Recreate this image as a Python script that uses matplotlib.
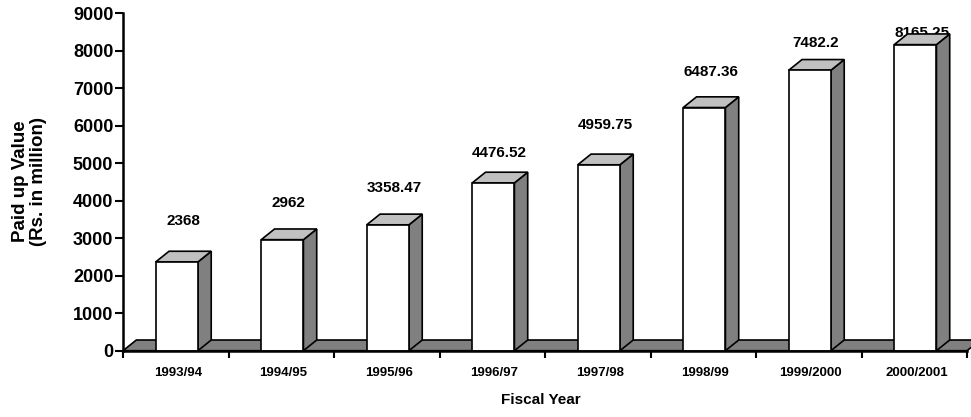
import matplotlib
matplotlib.use("Agg")
import matplotlib.pyplot as plt
from matplotlib.patches import Polygon

plt.rcParams['font.family'] = ['Liberation Sans', 'DejaVu Sans']
plt.rcParams['font.weight'] = 'bold'

years = ['1993/94', '1994/95', '1995/96', '1996/97',
         '1997/98', '1998/99', '1999/2000', '2000/2001']
paid_up = [2368, 2962, 3358.47, 4476.52, 4959.75, 6487.36, 7482.2, 8165.25]
# where each value label sits (data units), as laid out on the sheet
label_y = [3460, 3940, 4332, 5282, 6020, 7442, 8200, 8466]

# fake 3d depth, in data units
dx, dy = 0.126, 285
bar_left, bar_w = 0.31, 0.40

fig = plt.figure(figsize=(9.71, 4.17), dpi=100)
ax = fig.add_axes([0.1267, 0.159, 0.8692, 0.809])
ax.set_xlim(0, 8)
ax.set_ylim(0, 9000)

# floor
floor = Polygon([(0, 0), (8, 0), (8 + dx, dy), (dx, dy)], closed=True,
                facecolor='#808080', edgecolor='black', lw=1.2,
                zorder=1, clip_on=False)
ax.add_patch(floor)

for i, v in enumerate(paid_up):
    x0 = i + bar_left
    x1 = x0 + bar_w
    side = Polygon([(x1, 0), (x1 + dx, dy), (x1 + dx, v + dy), (x1, v)],
                   facecolor='#808080', edgecolor='black', lw=1.2, zorder=4)
    top = Polygon([(x0, v), (x1, v), (x1 + dx, v + dy), (x0 + dx, v + dy)],
                  facecolor='#c0c0c0', edgecolor='black', lw=1.2, zorder=4)
    front = Polygon([(x0, 0), (x1, 0), (x1, v), (x0, v)],
                    facecolor='white', edgecolor='black', lw=1.2, zorder=4)
    for p in (side, top, front):
        ax.add_patch(p)
    ax.text(i + 0.57, label_y[i], f'{v:g}', ha='center', va='center',
            fontsize=11, fontweight='bold', zorder=3)

for s in ('top', 'right'):
    ax.spines[s].set_visible(False)
for s in ('left', 'bottom'):
    ax.spines[s].set_linewidth(1.8)
    ax.spines[s].set_zorder(5)

ax.set_yticks(range(0, 9001, 1000))
ax.tick_params(axis='y', direction='out', length=6, width=1.5, pad=1,
               labelsize=13)
ax.set_xticks(range(0, 9))
ax.set_xticklabels([])
ax.tick_params(axis='x', which='major', direction='out', length=5, width=1.5)
ax.set_xticks([i + 0.52 for i in range(8)], minor=True)
ax.set_xticklabels(years, minor=True, fontsize=9.5, fontweight='bold')
ax.tick_params(axis='x', which='minor', length=0, pad=12)
for lab in ax.get_yticklabels():
    lab.set_fontweight('bold')

fig.text(29.5 / 971, 1 - 181 / 417, 'Paid up Value\n(Rs. in million)',
         rotation=90, ha='center', va='center', multialignment='center',
         fontsize=13.5, fontweight='bold', linespacing=1.15)
fig.text(541 / 971, 1 - 400 / 417, 'Fiscal Year', ha='center', va='center',
         fontsize=11, fontweight='bold')

fig.savefig('out.png', dpi=100)
